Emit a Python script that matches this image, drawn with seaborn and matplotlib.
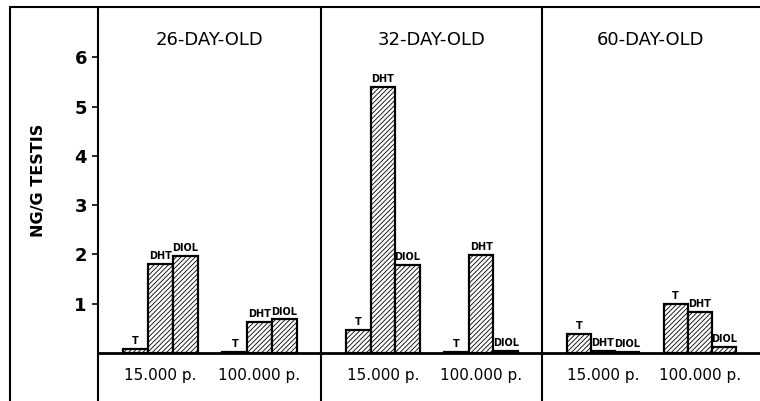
import pandas as pd
import matplotlib
matplotlib.use("Agg")
import matplotlib.pyplot as plt
from matplotlib.lines import Line2D
import seaborn as sns

# ---------------------------------------------------------------------------
# data (ng/g testis)
# ---------------------------------------------------------------------------
ages = ["26-DAY-OLD", "32-DAY-OLD", "60-DAY-OLD"]
doses = ["15.000 p.", "100.000 p."]
steroids = ["T", "DHT", "DIOL"]

# one row per dose, values in steroid order T, DHT, DIOL
day26 = [[0.08, 1.80, 1.97], [0.02, 0.63, 0.68]]
day32 = [[0.47, 5.40, 1.79], [0.02, 1.99, 0.04]]
day60 = [[0.38, 0.04, 0.02], [0.99, 0.83, 0.12]]
yticks = [1, 2, 3, 4, 5, 6]
ylabel = "NG/G TESTIS"

rows = []
for age, table in zip(ages, [day26, day32, day60]):
    for dose, vals in zip(doses, table):
        for st, v in zip(steroids, vals):
            rows.append({"age": age, "dose": dose, "steroid": st, "value": v})
df = pd.DataFrame(rows)

# ---------------------------------------------------------------------------
# layout (pixels of the 760x401 output)
# ---------------------------------------------------------------------------
W, H = 760, 401
base_y, top_y = 353, 7
px_per_unit = 49.3
panels_px = [(98, 321), (321, 542), (542, 760)]

sns.set_style("white")
plt.rcParams["font.family"] = ["DejaVu Sans"]
plt.rcParams["hatch.linewidth"] = 0.6
plt.rcParams["hatch.color"] = "black"
for key in ["text.color", "axes.labelcolor", "xtick.color", "ytick.color"]:
    plt.rcParams[key] = "black"

fig = plt.figure(figsize=(W / 100, H / 100), dpi=100)

for i, (age, (x0, x1)) in enumerate(zip(ages, panels_px)):
    ax = fig.add_axes([x0 / W, (H - base_y) / H, (x1 - x0) / W, (base_y - top_y) / H])
    sub = df[df["age"] == age]
    sns.barplot(data=sub, x="dose", y="value", hue="steroid",
                order=doses, hue_order=steroids,
                palette=["white"] * 3, edgecolor="black", linewidth=1.6,
                width=0.75, gap=0, legend=False, errorbar=None, ax=ax)

    for cont, st in zip(ax.containers, steroids):
        for bar in cont:
            bar.set_hatch("///////")
            ax.annotate(st, (bar.get_x() + bar.get_width() / 2, bar.get_height()),
                        xytext=(0, 2), textcoords="offset points",
                        ha="center", va="bottom", fontsize=7, weight="bold")

    ax.set_xlim(-0.63, 1.62)
    ax.set_ylim(0, (base_y - top_y) / px_per_unit)
    ax.set_xlabel("")
    ax.set_ylabel("")
    for side in ["left", "top", "right"]:
        ax.spines[side].set_visible(False)
    ax.spines["bottom"].set_linewidth(2)
    ax.spines["bottom"].set_color("black")
    ax.tick_params(axis="x", length=0, pad=11, labelsize=11)

    ax.text(0.5, (base_y - 40) / (base_y - top_y), age, transform=ax.transAxes,
            ha="center", va="center", fontsize=13)

    if i == 0:
        ax.set_yticks(yticks)
        ax.set_yticklabels([str(t) for t in yticks], fontsize=13, weight="bold")
        ax.tick_params(axis="y", left=True, direction="out", length=4, width=1.2, pad=4)
        ax.set_ylabel(ylabel, fontsize=11.5, weight="bold")
        ax.yaxis.set_label_coords(-0.235, 0.5)
    else:
        ax.set_yticks([])

# frame lines of the original figure
lw = 1.5
fig.add_artist(Line2D([10 / W, 1], [1 - top_y / H] * 2, color="black", lw=lw))
for x in [10, 98, 321, 542]:
    fig.add_artist(Line2D([x / W] * 2, [0, 1 - top_y / H], color="black", lw=lw))

fig.savefig("out.png", dpi=100)
